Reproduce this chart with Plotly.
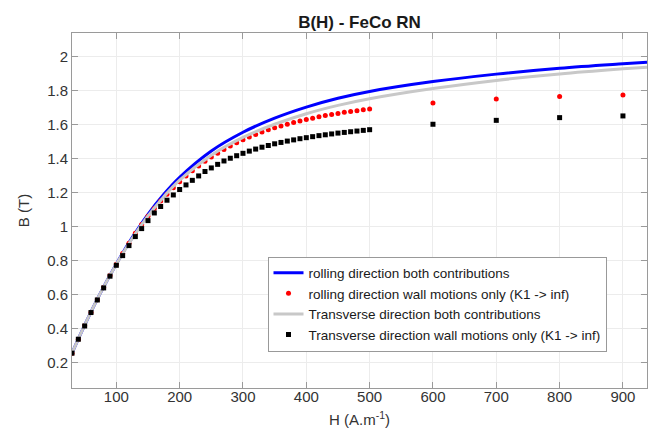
import plotly.graph_objects as go

# ---- data ----
H_curve = [30, 50, 75, 100, 125, 150, 175, 200, 250, 300, 350, 400, 450, 500,
           600, 700, 800, 900, 938]
B_rolling_both = [0.255, 0.420, 0.610, 0.780, 0.935, 1.072, 1.190, 1.290, 1.445,
                  1.555, 1.638, 1.703, 1.755, 1.795, 1.853, 1.897, 1.932, 1.958, 1.967]
B_trans_both = [0.255, 0.420, 0.610, 0.778, 0.930, 1.063, 1.176, 1.273, 1.420,
                1.525, 1.602, 1.664, 1.713, 1.752, 1.812, 1.860, 1.898, 1.928, 1.938]

H_wall = [30, 40, 50, 60, 70, 80, 90, 100, 110, 120, 130, 140, 150, 160, 170, 180,
          190, 200, 210, 220, 230, 240, 250, 260, 270, 280, 290, 300, 310, 320, 330,
          340, 350, 360, 370, 380, 390, 400, 410, 420, 430, 440, 450, 460, 470, 480,
          490, 500, 600, 700, 800, 900]
B_rolling_wall = [0.255, 0.337, 0.416, 0.495, 0.570, 0.642, 0.712, 0.778, 0.842, 0.902,
                  0.960, 1.012, 1.060, 1.106, 1.150, 1.190, 1.228, 1.264, 1.297, 1.328,
                  1.357, 1.384, 1.409, 1.432, 1.454, 1.474, 1.493, 1.511, 1.527, 1.542,
                  1.556, 1.569, 1.581, 1.592, 1.602, 1.612, 1.621, 1.630, 1.638, 1.646,
                  1.653, 1.660, 1.666, 1.672, 1.677, 1.682, 1.687, 1.692,
                  1.727, 1.751, 1.765, 1.774]
B_trans_wall = [0.255, 0.337, 0.415, 0.494, 0.568, 0.639, 0.708, 0.772, 0.829, 0.888,
                0.941, 0.988, 1.035, 1.080, 1.118, 1.155, 1.186, 1.218, 1.245, 1.272,
                1.298, 1.324, 1.345, 1.366, 1.386, 1.402, 1.417, 1.431, 1.444, 1.456,
                1.467, 1.477, 1.487, 1.495, 1.503, 1.510, 1.517, 1.523, 1.529, 1.535,
                1.540, 1.545, 1.550, 1.554, 1.558, 1.562, 1.566, 1.570,
                1.602, 1.625, 1.641, 1.651]

x_ticks = [100, 200, 300, 400, 500, 600, 700, 800, 900]
y_ticks = [0.2, 0.4, 0.6, 0.8, 1.0, 1.2, 1.4, 1.6, 1.8, 2.0]
y_tick_text = ["0.2", "0.4", "0.6", "0.8", "1", "1.2", "1.4", "1.6", "1.8", "2"]

FONT = "Liberation Sans, Arial, sans-serif"
AXIS_COL = "#9a9a9a"
TEXT_COL = "#333333"

fig = go.Figure()
fig.add_trace(go.Scatter(x=H_curve, y=B_rolling_both, mode="lines",
                         line=dict(color="#0000ff", width=3, shape="spline"),
                         name="rolling direction both contributions"))
fig.add_trace(go.Scatter(x=H_wall, y=B_rolling_wall, mode="markers",
                         marker=dict(color="#ff0000", size=5, symbol="circle"),
                         name="rolling direction wall motions only (K1 -> inf)"))
fig.add_trace(go.Scatter(x=H_curve, y=B_trans_both, mode="lines",
                         line=dict(color="#c8c8c8", width=3, shape="spline"),
                         name="Transverse direction both contributions"))
fig.add_trace(go.Scatter(x=H_wall, y=B_trans_wall, mode="markers",
                         marker=dict(color="#000000", size=5, symbol="square"),
                         name="Transverse direction wall motions only (K1 -> inf)"))

fig.update_layout(
    width=662, height=436,
    margin=dict(l=64, r=23, t=25, b=56),
    paper_bgcolor="white", plot_bgcolor="white",
    font=dict(family=FONT, color=TEXT_COL, size=15),
    title=dict(text="B(H) - FeCo RN", x=0.531, xanchor="center",
               y=1 - 14.5 / 436, yanchor="middle", yref="container",
               font=dict(family=FONT, size=17, color="#1a1a1a", weight="bold")),
    legend=dict(x=0.34, xanchor="left", y=0.2366, yanchor="middle",
                bgcolor="white", bordercolor="#999999", borderwidth=1,
                font=dict(family=FONT, size=13.5, color="#1a1a1a"),
                itemwidth=30, tracegroupgap=0),
    showlegend=True,
)
fig.update_xaxes(range=[30, 938], tickvals=x_ticks, ticks="inside", ticklen=6,
                 tickcolor=AXIS_COL, showline=True, linecolor=AXIS_COL, linewidth=1,
                 mirror="ticks", showgrid=True, gridcolor="#ececec", gridwidth=1,
                 zeroline=False, tickfont=dict(size=15, color=TEXT_COL),
                 ticklabelstandoff=-5,
                 title=dict(text="H (A.m<sup>-1</sup>)", standoff=10,
                            font=dict(size=15, color=TEXT_COL)))
fig.update_yaxes(range=[0.05, 2.139], tickvals=y_ticks, ticktext=y_tick_text,
                 ticks="inside", ticklen=6, tickcolor=AXIS_COL, showline=True,
                 linecolor=AXIS_COL, linewidth=1, mirror="ticks", showgrid=True,
                 gridcolor="#ececec", gridwidth=1, zeroline=False,
                 tickfont=dict(size=15, color=TEXT_COL),
                 title=dict(text="B (T)", standoff=13,
                            font=dict(size=15, color=TEXT_COL)))

fig.write_html("out.html")
